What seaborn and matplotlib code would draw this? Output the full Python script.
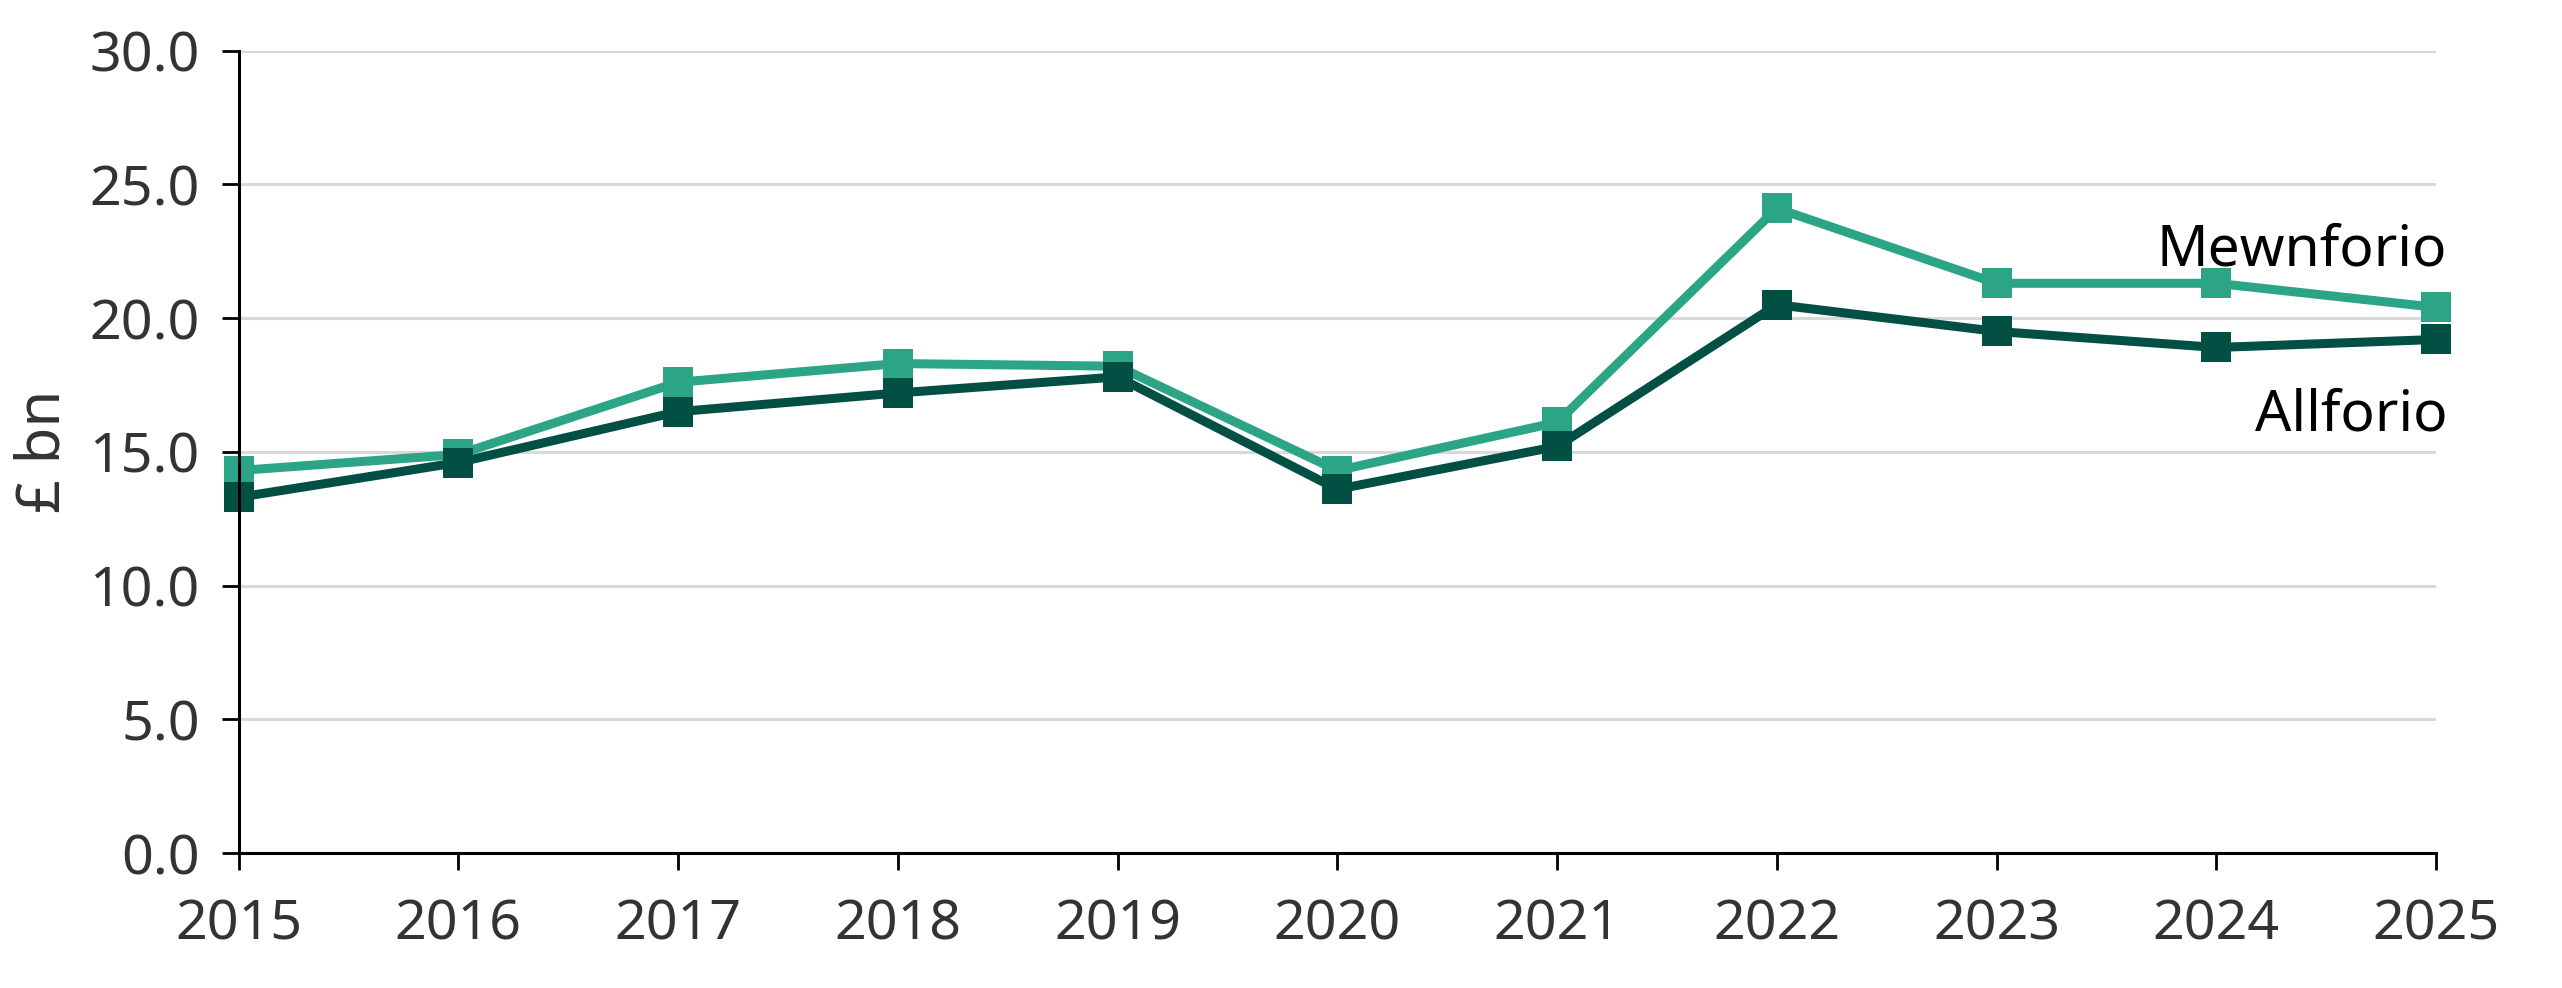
import pandas as pd
import seaborn as sns
import matplotlib
matplotlib.use('Agg')
import matplotlib.pyplot as plt

years = [2015, 2016, 2017, 2018, 2019, 2020, 2021, 2022, 2023, 2024, 2025]
mewnforio = [14.3, 14.9, 17.6, 18.3, 18.2, 14.3, 16.1, 24.1, 21.3, 21.3, 20.4]
allforio = [13.3, 14.6, 16.5, 17.2, 17.8, 13.6, 15.2, 20.5, 19.5, 18.9, 19.2]
series_names = ['Mewnforio', 'Allforio']
series_colors = ['#2ca586', '#024f44']
y_ticks = [0, 5, 10, 15, 20, 25, 30]

df = pd.concat([
    pd.DataFrame({'Year': years, 'Value': mewnforio, 'Series': 'Mewnforio'}),
    pd.DataFrame({'Year': years, 'Value': allforio, 'Series': 'Allforio'}),
])

sns.set_style('white')
plt.rcParams['font.family'] = ['Noto Sans', 'DejaVu Sans']

fig = plt.figure(figsize=(25.62, 9.88), dpi=100)
ax = fig.add_axes([0.0931, 0.1366, 0.8578, 0.8122])

sns.lineplot(data=df, x='Year', y='Value', hue='Series', hue_order=series_names,
             palette=series_colors, marker='s', markersize=21, markeredgewidth=0,
             linewidth=6.5, legend=False, clip_on=False, ax=ax)

ax.set_xlim(2015, 2025)
ax.set_ylim(0, 30)
ax.set_xticks(years)
ax.set_yticks(y_ticks)
ax.set_yticklabels([f'{v:.1f}' for v in y_ticks])
ax.grid(axis='y', color='#d9d9d9', linewidth=2.2)
ax.set_axisbelow(True)
for s in ['top', 'right']:
    ax.spines[s].set_visible(False)
for s in ['left', 'bottom']:
    ax.spines[s].set_color('black')
    ax.spines[s].set_linewidth(2.2)
ax.tick_params(axis='both', direction='out', length=12, width=2, color='black',
               labelsize=40, labelcolor='#333333', pad=16,
               left=True, bottom=True)
ax.tick_params(axis='x', pad=20)
ax.set_xlabel('')
ax.set_ylabel('£ bn', fontsize=43, color='#333333')
ax.yaxis.set_label_coords(-0.075, 0.5)

ax.text(2025.05, 22.5, 'Mewnforio', ha='right', va='center', fontsize=41, color='black')
ax.text(2025.05, 16.35, 'Allforio', ha='right', va='center', fontsize=41, color='black')

plt.savefig('out.png', dpi=100)
plt.close()
